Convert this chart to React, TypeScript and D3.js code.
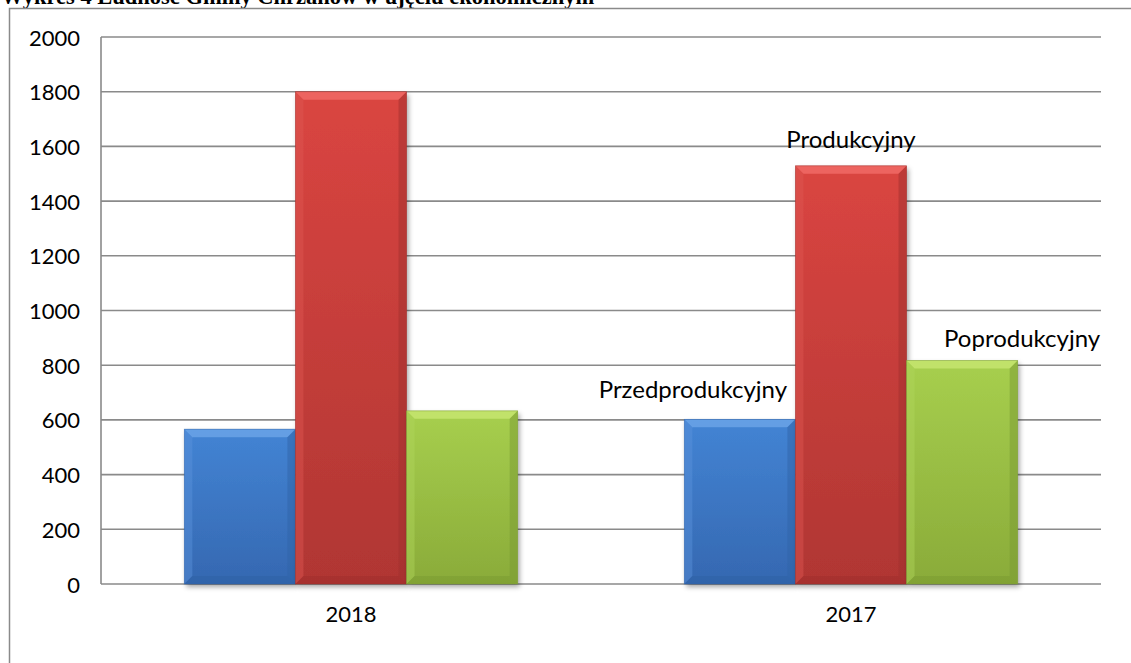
import React from "react";
import * as d3 from "d3";

const categories = ["2018", "2017"];
const seriesNames = ["Przedprodukcyjny", "Produkcyjny", "Poprodukcyjny"];
const przed = [566, 602];
const prod = [1800, 1529];
const popr = [633, 817];
const yTicks = [0, 200, 400, 600, 800, 1000, 1200, 1400, 1600, 1800, 2000];
const title = "Wykres 4 Ludność Gminy Chrzanów w ujęciu ekonomicznym";

const W = 1131, H = 663;
const plot = { left: 101, right: 1101, top: 37, bottom: 584 };

const palette = [
  { top: "#6aa3e6", side: "#5a92dc", dark: "#2f63a8", bottom: "#2d5f9f", grad0: "#4384d4", grad1: "#3568b1" },
  { top: "#f06a66", side: "#de5652", dark: "#9f2f2d", bottom: "#9a2e2b", grad0: "#da4541", grad1: "#b03633" },
  { top: "#c5e570", side: "#b0d45a", dark: "#7a9a33", bottom: "#759530", grad0: "#a7cf4e", grad1: "#8aab39" },
];

export default function App() {
  const values = [przed, prod, popr];
  const x0 = d3.scaleBand().domain(categories).range([plot.left, plot.right]).paddingInner(1 / 3).paddingOuter(1 / 6);
  const x1 = d3.scaleBand().domain(seriesNames).range([0, x0.bandwidth()]);
  const y = d3.scaleLinear().domain([0, 2000]).range([plot.bottom, plot.top]);
  const font = "Lato, 'Gill Sans', sans-serif";
  const b = 8;

  return (
    <svg width={W} height={H} style={{ position: "absolute", left: 0, top: 0, background: "#fff" }}>
      <defs>
        <filter id="sh" x="-20%" y="-20%" width="140%" height="140%">
          <feDropShadow dx="2" dy="3" stdDeviation="2.5" floodColor="#000" floodOpacity="0.35" />
        </filter>
        {palette.map((p, i) => (
          <linearGradient key={i} id={`g${i}`} x1="0" y1="0" x2="0" y2="1">
            <stop offset="0" stopColor={p.grad0} />
            <stop offset="1" stopColor={p.grad1} />
          </linearGradient>
        ))}
      </defs>
      <text x={1} y={4} fontFamily="'Liberation Serif', 'Times New Roman', serif" fontWeight="bold" fontSize={22.5}>{title}</text>
      <rect x={9.5} y={8.5} width={1300} height={800} fill="none" stroke="#8a8a8a" strokeWidth={1.5} />
      {yTicks.map((t) => (
        <g key={t}>
          <line x1={plot.left} x2={plot.right} y1={y(t)} y2={y(t)} stroke="#8a8a8a" strokeWidth={1.6} />
          <text x={80} y={y(t)} textAnchor="end" dominantBaseline="central" fontFamily={font} fontSize={22} fill="#000">{t}</text>
        </g>
      ))}
      <line x1={plot.left} x2={plot.left} y1={plot.top} y2={plot.bottom} stroke="#8a8a8a" strokeWidth={1.6} />
      {categories.map((c, ci) => (
        <g key={c}>
          {seriesNames.map((s, si) => {
            const v = values[si][ci];
            const bx = x0(c)! + x1(s)!;
            const bw = x1.bandwidth();
            const by = y(v);
            const bh = plot.bottom - by;
            const p = palette[si];
            return (
              <g key={s}>
                <rect x={bx} y={by} width={bw} height={bh} fill={`url(#g${si})`} filter="url(#sh)" />
                <polygon points={`${bx},${by} ${bx + bw},${by} ${bx + bw - b},${by + b} ${bx + b},${by + b}`} fill={p.top} opacity={0.85} />
                <polygon points={`${bx},${by} ${bx + b},${by + b} ${bx + b},${by + bh - b} ${bx},${by + bh}`} fill={p.side} opacity={0.45} />
                <polygon points={`${bx + bw},${by} ${bx + bw - b},${by + b} ${bx + bw - b},${by + bh - b} ${bx + bw},${by + bh}`} fill={p.dark} opacity={0.5} />
                <polygon points={`${bx},${by + bh} ${bx + b},${by + bh - b} ${bx + bw - b},${by + bh - b} ${bx + bw},${by + bh}`} fill={p.bottom} opacity={0.4} />
                <rect x={bx} y={by} width={bw} height={bh} fill="none" stroke={p.dark} strokeWidth={0.8} opacity={0.6} />
              </g>
            );
          })}
          <text x={x0(c)! + x0.bandwidth() / 2} y={622} textAnchor="middle" fontFamily={font} fontSize={22}>{c}</text>
        </g>
      ))}
      <text x={x0("2017")! + x1("Przedprodukcyjny")! + x1.bandwidth() / 2 - 47} y={y(przed[1]) - 21} textAnchor="middle" fontFamily={font} fontSize={24}>Przedprodukcyjny</text>
      <text x={x0("2017")! + x1("Produkcyjny")! + x1.bandwidth() / 2} y={y(prod[1]) - 18} textAnchor="middle" fontFamily={font} fontSize={24}>Produkcyjny</text>
      <text x={x0("2017")! + x1("Poprodukcyjny")! + x1.bandwidth() / 2 + 60} y={y(popr[1]) - 14} textAnchor="middle" fontFamily={font} fontSize={24}>Poprodukcyjny</text>
    </svg>
  );
}
